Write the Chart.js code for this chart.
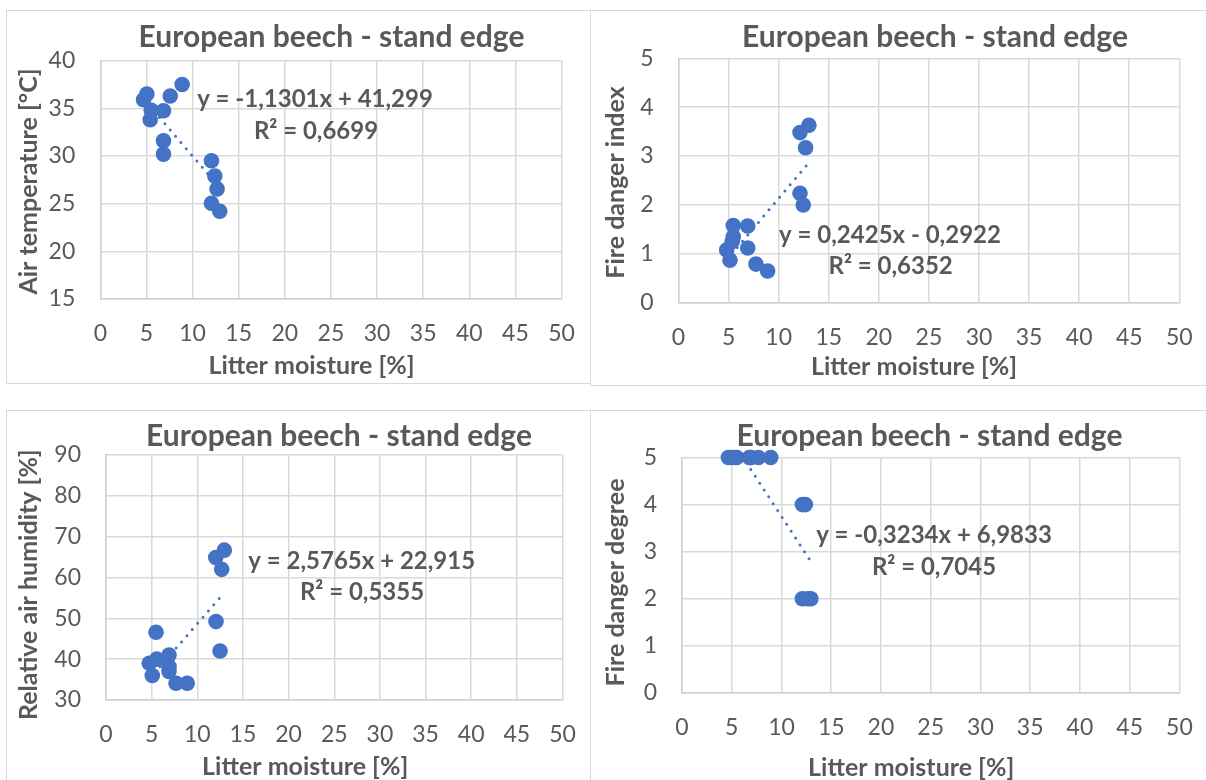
<!DOCTYPE html>
<html>
<head>
<meta charset="utf-8">
<script src="https://cdn.jsdelivr.net/npm/chart.js@4.4.1/dist/chart.umd.min.js"></script>
<style>
  body { margin: 0; width: 1206px; height: 780px; overflow: hidden; position: relative; background: #fff; }
  .panel { position: absolute; box-sizing: border-box; border: 1.5px solid #d9d9d9; }
  canvas { position: absolute; }
</style>
</head>
<body>
<div class="panel" style="left:6px;top:10px;width:585px;height:374px"></div>
<div class="panel" style="left:590px;top:10px;width:640px;height:376px"></div>
<div class="panel" style="left:6px;top:410px;width:585px;height:400px"></div>
<div class="panel" style="left:590px;top:410px;width:640px;height:400px"></div>

<canvas id="c1" width="585" height="374" style="left:6px;top:10px"></canvas>
<canvas id="c2" width="616" height="376" style="left:590px;top:10px"></canvas>
<canvas id="c3" width="585" height="380" style="left:6px;top:410px"></canvas>
<canvas id="c4" width="616" height="380" style="left:590px;top:410px"></canvas>

<script>
const BLUE = "#4472C4";
const TEXT = "#595959";

// x axis shared by all panels: min, max, step
const moistureAxis = [0, 50, 5];

// air temperature vs litter moisture
const tempMoisture = [5.05, 4.69, 5.52, 6.85, 5.41, 7.58, 8.87, 6.85, 6.85, 12.05, 12.41, 12.66, 12.05, 12.95];
const airTemp = [36.5, 35.9, 34.8, 34.75, 33.8, 36.3, 37.5, 31.6, 30.2, 29.5, 27.9, 26.55, 25.05, 24.2];
const tempAxis = [15, 40, 5];
const tempTrend = [-1.1301, 41.299];
const tempLabels = ["y = -1,1301x + 41,299", "R² = 0,6699"];

// fire danger index vs litter moisture
const indexMoisture = [13.02, 12.13, 12.69, 12.13, 12.46, 5.47, 6.91, 5.47, 5.37, 4.81, 5.14, 6.91, 7.73, 8.9];
const fireIndex = [3.63, 3.48, 3.17, 2.24, 2.0, 1.58, 1.57, 1.35, 1.25, 1.08, 0.87, 1.12, 0.79, 0.65];
const indexAxis = [0, 5, 1];
const indexTrend = [0.2425, -0.2922];
const indexLabels = ["y = 0,2425x - 0,2922", "R² = 0,6352"];

// relative air humidity vs litter moisture
const humMoisture = [12.96, 12.02, 12.67, 12.05, 12.49, 5.48, 6.9, 4.74, 5.55, 5.07, 6.9, 6.9, 7.67, 8.9];
const humidity = [66.7, 64.9, 62.0, 49.2, 42.0, 46.6, 41.0, 39.0, 40.0, 36.0, 38.2, 37.0, 34.1, 34.1];
const humAxis = [30, 90, 10];
const humTrend = [2.5765, 22.915];
const humLabels = ["y = 2,5765x + 22,915", "R² = 0,5355"];

// fire danger degree vs litter moisture
const degMoisture = [4.66, 5.05, 5.4, 5.5, 6.77, 6.85, 6.9, 7.68, 8.92, 12.1, 12.4, 12.1, 12.65, 12.95];
const fireDegree = [5, 5, 5, 5, 5, 5, 5, 5, 5, 4, 4, 2, 2, 2];
const degAxis = [0, 5, 1];
const degTrend = [-0.3234, 6.9833];
const degLabels = ["y = -0,3234x + 6,9833", "R² = 0,7045"];

const chartTitle = "European beech - stand edge";
const xTitle = "Litter moisture [%]";

// texto fijo de cada panel (titulo, ecuacion, titulos de ejes)
const panelText = {
  id: "panelText",
  afterDraw(chart, args, o) {
    const ctx = chart.ctx;
    ctx.save();
    ctx.fillStyle = TEXT;
    ctx.textAlign = "center";
    ctx.textBaseline = "middle";
    ctx.font = "bold 30px Lato";
    ctx.fillText(chartTitle, o.title[0], o.title[1]);
    ctx.font = "bold 24px Lato";
    ctx.fillText(o.labels[0], o.eq[0], o.eq[1]);
    ctx.fillText(o.labels[1], o.r2[0], o.r2[1]);
    ctx.font = "bold 25px Lato";
    ctx.fillText(xTitle, o.xt[0], o.xt[1]);
    ctx.translate(o.yt[0], o.yt[1]);
    ctx.rotate(-Math.PI / 2);
    ctx.fillText(o.yTitle, 0, 0);
    ctx.restore();
  }
};

function crearPanel(id, xs, ys, yAxis, trend, labels, yTitle, area, pos) {
  const canvas = document.getElementById(id);
  const W = canvas.width, H = canvas.height;
  const puntos = xs.map((x, i) => ({ x: x, y: ys[i] }));
  const xmin = Math.min(...xs), xmax = Math.max(...xs);
  const linea = [
    { x: xmin, y: trend[0] * xmin + trend[1] },
    { x: xmax, y: trend[0] * xmax + trend[1] }
  ];

  const tickFont = { family: "Lato", size: 23 };

  new Chart(canvas, {
    type: "scatter",
    data: {
      datasets: [
        {
          data: puntos,
          pointRadius: 7.8,
          pointBackgroundColor: BLUE,
          pointBorderWidth: 0,
          clip: false,
          order: 2
        },
        {
          type: "line",
          data: linea,
          borderColor: BLUE,
          borderWidth: 3,
          borderDash: [0, 8.2],
          borderCapStyle: "round",
          pointRadius: 0,
          fill: false,
          order: 1
        }
      ]
    },
    plugins: [panelText],
    options: {
      responsive: false,
      animation: false,
      events: [],
      layout: { padding: { top: area.top, right: W - area.right, left: 0, bottom: 0 } },
      plugins: {
        legend: { display: false },
        tooltip: { enabled: false },
        panelText: Object.assign({ labels: labels, yTitle: yTitle }, pos)
      },
      scales: {
        x: {
          type: "linear",
          min: moistureAxis[0],
          max: moistureAxis[1],
          ticks: { stepSize: moistureAxis[2], color: TEXT, font: tickFont, padding: 21, autoSkip: false, maxRotation: 0 },
          grid: { color: "#d9d9d9", lineWidth: 1.5, drawTicks: false },
          border: { color: "#d0d0d0", width: 1.5 },
          afterFit(s) { s.height = H - area.bottom; s.paddingLeft = 0; s.paddingRight = 0; }
        },
        y: {
          type: "linear",
          min: yAxis[0],
          max: yAxis[1],
          ticks: { stepSize: yAxis[2], color: TEXT, font: tickFont, padding: 25 },
          grid: { color: "#d9d9d9", lineWidth: 1.5, drawTicks: false },
          border: { color: "#d0d0d0", width: 1.5 },
          afterFit(s) { s.width = area.left; s.paddingTop = 0; s.paddingBottom = 0; }
        }
      }
    }
  });
}

crearPanel("c1", tempMoisture, airTemp, tempAxis, tempTrend, tempLabels, "Air temperature [°C]",
  { left: 94.3, right: 555.5, top: 50.7, bottom: 289 },
  { title: [325.5, 27.3], eq: [309, 89], r2: [310, 121], xt: [305.5, 355.7], yt: [22.7, 171.5] });

crearPanel("c2", indexMoisture, fireIndex, indexAxis, indexTrend, indexLabels, "Fire danger index",
  { left: 88.5, right: 589.3, top: 48.3, bottom: 292.7 },
  { title: [345, 27], eq: [300, 225], r2: [300.6, 256.7], xt: [324, 356.7], yt: [25.5, 172.5] });

crearPanel("c3", humMoisture, humidity, humAxis, humTrend, humLabels, "Relative air humidity [%]",
  { left: 100, right: 556.5, top: 45, bottom: 290 },
  { title: [333, 26.7], eq: [355.7, 151.7], r2: [356, 182.7], xt: [299.2, 356.7], yt: [22.7, 174.7] });

crearPanel("c4", degMoisture, fireDegree, degAxis, degTrend, degLabels, "Fire danger degree",
  { left: 92, right: 589.4, top: 47.5, bottom: 283 },
  { title: [339.5, 26.7], eq: [344, 125], r2: [344, 157.7], xt: [321.2, 358.3], yt: [25.5, 172.5] });
</script>
</body>
</html>
